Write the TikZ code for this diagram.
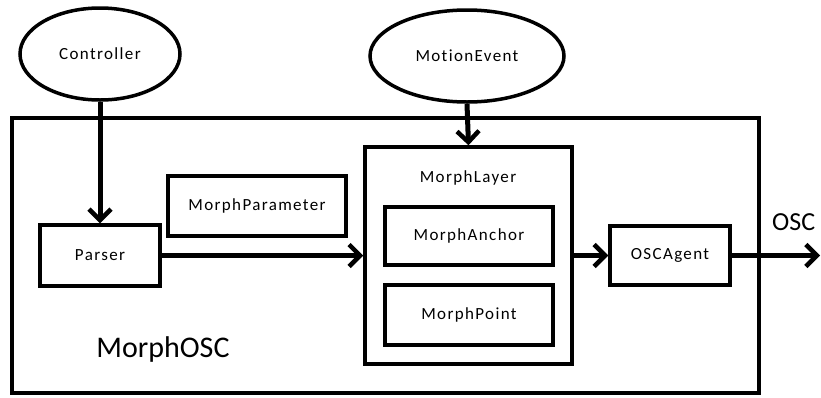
\documentclass[tikz,border=0pt]{standalone}
\usepackage{fontspec}
\setmainfont{Carlito}
\newfontfamily\smallfam[LetterSpace=8,Ligatures={NoCommon,NoRare,NoDiscretionary}]{Carlito}
\usetikzlibrary{shapes.geometric,arrows.meta}
\tikzset{
  lbl/.style={font=\smallfam\fontsize{17}{20}\selectfont},
  boxnode/.style={draw, line width=3.5pt, rectangle, lbl, inner sep=0pt},
  ellnode/.style={draw, line width=3.5pt, ellipse, lbl, inner sep=0pt},
  conn/.style={line width=5pt, -{Straight Barb[length=11pt,width=22pt,line width=4.5pt]}},
}
\begin{document}
\begin{tikzpicture}[x=1pt,y=-1pt]
\useasboundingbox (0,0) rectangle (821,397);
\node[boxnode, minimum width=747pt, minimum height=275pt] (outer) at (385.5,255.5) {};
\node[ellnode, minimum width=160pt, minimum height=92pt] (ctrl) at (100,54) {Controller};
\node[ellnode, minimum width=194pt, minimum height=92pt] (motion) at (467,56) {MotionEvent};
\node[boxnode, minimum width=120pt, minimum height=61pt] (parser) at (100,255.5) {Parser};
\node[boxnode, minimum width=178pt, minimum height=60pt] (param) at (257,206) {MorphParameter};
\node[boxnode, minimum width=207pt, minimum height=217pt] (layer) at (468.5,255.5) {};
\node[lbl] (layertxt) at (468,178) {MorphLayer};
\node[boxnode, minimum width=168pt, minimum height=58pt] (anchor) at (469,236) {MorphAnchor};
\node[boxnode, minimum width=168pt, minimum height=60pt] (point) at (469,315) {MorphPoint};
\node[boxnode, minimum width=120pt, minimum height=59pt] (agent) at (670,255.5) {OSCAgent};
\node[font=\fontsize{30}{34}\selectfont, inner sep=0pt] (title) at (163,349) {MorphOSC};
\node[font=\fontsize{26}{30}\selectfont, anchor=west, inner sep=0pt] (osc) at (772,222) {OSC};
\coordinate (out) at (820,255.5);
\draw[conn] (ctrl.south) -- (parser.north);
\draw[conn] (motion.south) -- (layer.north);
\draw[conn] (parser.east) -- (layer.west);
\draw[conn] (layer.east) -- (agent.west);
\draw[conn] (agent.east) -- (out);
\end{tikzpicture}
\end{document}
